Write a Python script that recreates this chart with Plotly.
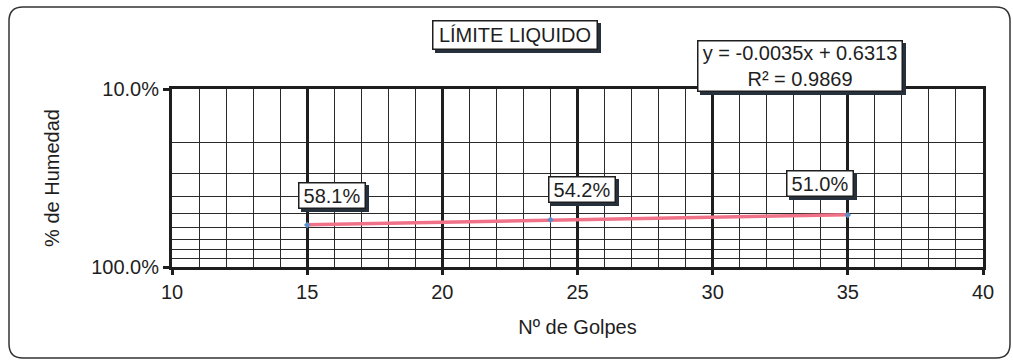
import numpy as np
import plotly.graph_objects as go

# Ensayo de límite líquido: número de golpes vs. contenido de humedad
golpes = [15, 24, 35]
humedad = [0.581, 0.542, 0.510]

# Recta de tendencia y = m·x + b (Excel)
pendiente = -0.0035
intercepto = 0.6313
ecuacion = ["y = -0.0035x + 0.6313", "R² = 0.9869"]

titulo = "LÍMITE LIQUIDO"
titulo_x = "Nº de Golpes"
titulo_y = "% de Humedad"
ticks_y = [0.1, 1.0]
grid_y = [0.2, 0.3, 0.4, 0.5, 0.6, 0.7, 0.8, 0.9]

W, H = 1013, 362
L, R, T, B = 172, 30, 89, 95
PW, PH = W - L - R, H - T - B
FONT = "Liberation Sans, Arial, sans-serif"
FS = 20
INK = "#1e1e1e"
SOMBRA = "#27313d"
PAD, BW = 2, 1.5


def px(xp):
    return (xp - L) / PW


def py(yp):
    return (H - B - yp) / PH


tx = np.array(golpes, dtype=float)
ty = pendiente * tx + intercepto

fig = go.Figure()
fig.add_trace(go.Scatter(
    x=tx, y=ty, mode="lines",
    line=dict(color="#f07288", width=3.5),
    hoverinfo="skip", showlegend=False,
))
fig.add_trace(go.Scatter(
    x=golpes, y=humedad, mode="markers",
    marker=dict(color="#5b8fc9", size=5, symbol="diamond"),
    showlegend=False,
))


def caja(x, y, text, xref, yref, w, h, xshift=0, yshift=0):
    # caja de texto con sombra desplazada hacia abajo a la derecha
    iw, ih = w - 2 * PAD - 2 * BW, h - 2 * PAD - 2 * BW
    common = dict(x=x, y=y, xref=xref, yref=yref, showarrow=False,
                  xanchor="center", yanchor="middle",
                  width=iw, height=ih, borderpad=PAD, borderwidth=BW,
                  align="center", valign="middle")
    fig.add_annotation(**common, text=" ", xshift=xshift + 3, yshift=yshift - 3,
                       bgcolor=SOMBRA, bordercolor=SOMBRA)
    fig.add_annotation(**common, text=text, xshift=xshift, yshift=yshift,
                       font=dict(family=FONT, size=FS, color=INK),
                       bgcolor="white", bordercolor=INK)


# Etiquetas de datos
desplaz = [(25, 30), (32, 30), (-28, 31)]
for gx, hy, (dx, dy) in zip(golpes, humedad, desplaz):
    caja(gx, np.log10(hy), f"{hy:.1%}", "x", "y", 68, 27, xshift=dx, yshift=dy)

# Título y ecuación de la tendencia
caja(px(515), py(35), titulo, "paper", "paper", 166, 30)
caja(px(800), py(66), "<br>".join(ecuacion), "paper", "paper", 206, 52)


# Marco exterior redondeado
def marco(x0, y0, x1, y1, r):
    pts = [
        f"M{px(x0 + r)},{py(y0)}",
        f"L{px(x1 - r)},{py(y0)}",
        f"Q{px(x1)},{py(y0)} {px(x1)},{py(y0 + r)}",
        f"L{px(x1)},{py(y1 - r)}",
        f"Q{px(x1)},{py(y1)} {px(x1 - r)},{py(y1)}",
        f"L{px(x0 + r)},{py(y1)}",
        f"Q{px(x0)},{py(y1)} {px(x0)},{py(y1 - r)}",
        f"L{px(x0)},{py(y0 + r)}",
        f"Q{px(x0)},{py(y0)} {px(x0 + r)},{py(y0)}",
        "Z",
    ]
    return " ".join(pts)


fig.add_shape(type="path", xref="paper", yref="paper",
              path=marco(9, 7, 1010, 358, 14),
              line=dict(color="#333333", width=1.5), layer="below")

fig.update_xaxes(
    range=[10, 40], dtick=5, tick0=10,
    showgrid=True, gridcolor=INK, gridwidth=3,
    minor=dict(dtick=1, tick0=10, showgrid=True, gridcolor="#2a2a2a", gridwidth=1.3),
    showline=True, linecolor=INK, linewidth=3, mirror=True,
    ticks="outside", ticklen=5, tickwidth=2.5, tickcolor=INK,
    zeroline=False,
    tickfont=dict(family=FONT, size=FS, color=INK),
    title=dict(text=titulo_x, font=dict(family=FONT, size=FS, color=INK), standoff=18),
)
fig.update_yaxes(
    type="log", range=[0, -1],
    tickvals=ticks_y, tickformat=".1%",
    showgrid=True, gridcolor=INK, gridwidth=2,
    minor=dict(tickvals=grid_y, showgrid=True, gridcolor="#2a2a2a", gridwidth=1.3, ticks=""),
    showline=True, linecolor=INK, linewidth=3, mirror=True,
    ticks="outside", ticklen=6, tickwidth=2.5, tickcolor=INK,
    zeroline=False,
    tickfont=dict(family=FONT, size=FS, color=INK),
    title=dict(text=titulo_y, font=dict(family=FONT, size=FS, color=INK), standoff=27),
)

fig.update_layout(
    width=W, height=H,
    margin=dict(l=L, r=R, t=T, b=B, autoexpand=False),
    paper_bgcolor="white", plot_bgcolor="white",
    showlegend=False,
)

fig.write_html("out.html")
